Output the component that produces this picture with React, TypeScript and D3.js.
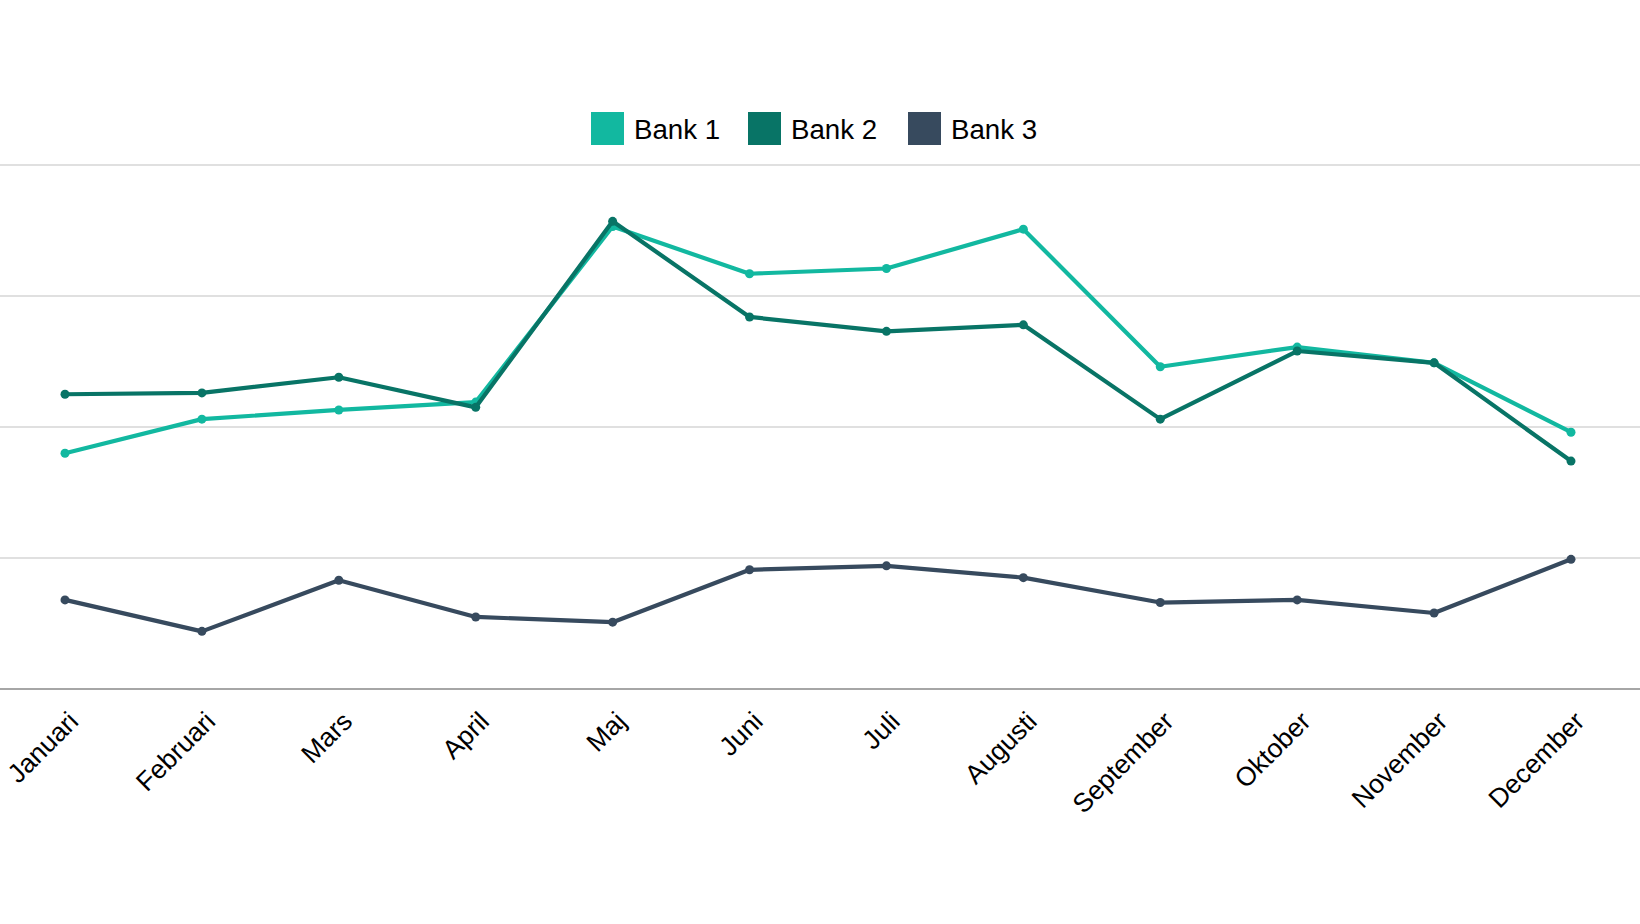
import React from "react";
import * as d3 from "d3";

const months = ["Januari","Februari","Mars","April","Maj","Juni","Juli","Augusti","September","Oktober","November","December"];
const bank1 = [18.0, 20.6, 21.3, 21.9, 35.3, 31.7, 32.1, 35.1, 24.6, 26.1, 24.9, 19.6];
const bank2 = [22.5, 22.6, 23.8, 21.5, 35.7, 28.4, 27.3, 27.8, 20.6, 25.8, 24.9, 17.4];
const bank3 = [6.8, 4.4, 8.3, 5.5, 5.1, 9.1, 9.4, 8.5, 6.6, 6.8, 5.8, 9.9];
const seriesNames = ["Bank 1", "Bank 2", "Bank 3"];
const seriesColors = ["#12B8A0", "#087466", "#374A5E"];
const yTicks = [0, 10, 20, 30, 40];

const W = 1640;
const H = 924;

export default function App() {
  const x = d3.scalePoint<string>().domain(months).range([65, 1571]);
  const y = d3.scaleLinear().domain([0, 40]).range([689, 165]);
  const line = d3.line<number>().x((_, i) => x(months[i]) as number).y((d) => y(d));
  const all = [bank1, bank2, bank3];

  const legendX = [591, 748, 908];

  return (
    <div style={{ position: "fixed", left: 0, top: 0 }}>
      <svg width={W} height={H} style={{ display: "block", fontFamily: "'Liberation Sans', Arial, sans-serif" }}>
        <rect x={0} y={0} width={W} height={H} fill="#ffffff" />
        {yTicks.map((t) => (
          <line
            key={t}
            x1={0}
            x2={W}
            y1={y(t)}
            y2={y(t)}
            stroke={t === 0 ? "#a6a6a6" : "#d6d6d6"}
            strokeWidth={t === 0 ? 2 : 1.3}
          />
        ))}
        {all.map((s, si) => (
          <g key={si}>
            <path d={line(s) || ""} fill="none" stroke={seriesColors[si]} strokeWidth={4.2} strokeLinejoin="round" />
            {s.map((v, i) => (
              <circle key={i} cx={x(months[i]) as number} cy={y(v)} r={4.5} fill={seriesColors[si]} />
            ))}
          </g>
        ))}
        {months.map((m) => {
          const ax = (x(m) as number) + 15;
          const ay = 723;
          return (
            <text
              key={m}
              x={ax}
              y={ay}
              transform={`rotate(-45 ${ax} ${ay})`}
              textAnchor="end"
              fontSize={26.5}
              fill="#000"
            >
              {m}
            </text>
          );
        })}
        {seriesNames.map((n, i) => (
          <g key={n}>
            <rect x={legendX[i]} y={112} width={33} height={33} fill={seriesColors[i]} />
            <text x={legendX[i] + 43} y={129.5} dy="0.36em" fontSize={27.7} fill="#000">
              {n}
            </text>
          </g>
        ))}
      </svg>
    </div>
  );
}
